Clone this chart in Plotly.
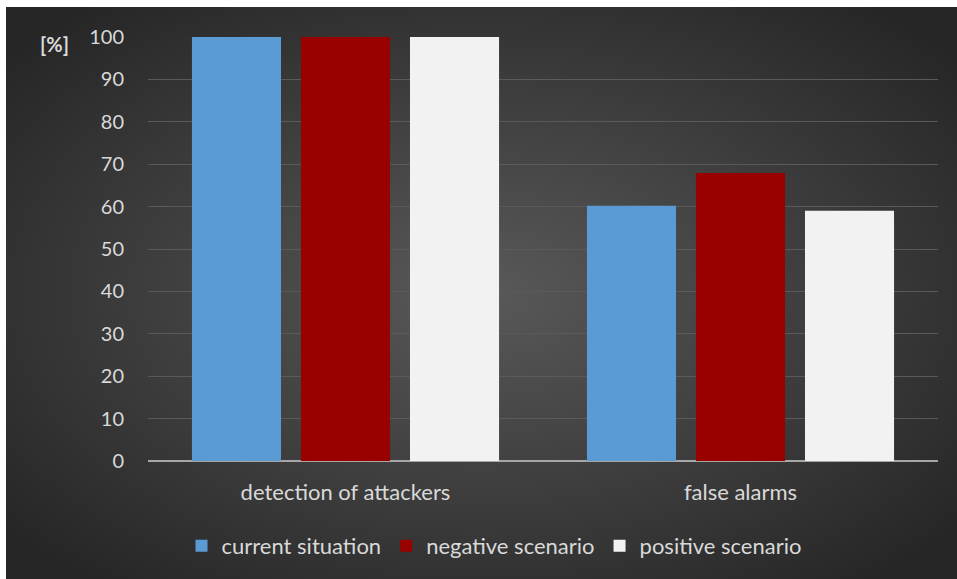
import base64
import plotly.graph_objects as go

# Chart data
categories = ["detection of attackers", "false alarms"]
series_names = ["current situation", "negative scenario", "positive scenario"]
current_situation = [100, 60.2]
negative_scenario = [100, 67.9]
positive_scenario = [100, 59.0]
y_ticks = [0, 10, 20, 30, 40, 50, 60, 70, 80, 90, 100]

series_values = [current_situation, negative_scenario, positive_scenario]
series_colors = ["#5b9bd5", "#990000", "#f2f2f2"]

FONT = "Lato, 'Open Sans', sans-serif"
TEXT = "#d9d9d9"
FS = 20
FS_CAT = 22

W, H = 957, 579
L, R, T, B = 148, 19, 37, 118
PW, PH = W - L - R, H - T - B

# Dark radial backdrop drawn as an SVG image
svg = f"""<svg xmlns='http://www.w3.org/2000/svg' width='{W-6}' height='{H-7}' viewBox='0 0 {W-6} {H-7}' preserveAspectRatio='none'>
<defs><radialGradient id='g' cx='50%' cy='50%' r='65%'>
<stop offset='0%' stop-color='#595959'/>
<stop offset='100%' stop-color='#262626'/>
</radialGradient></defs>
<rect width='100%' height='100%' fill='url(#g)'/></svg>"""
bg_src = "data:image/svg+xml;base64," + base64.b64encode(svg.encode()).decode()

fig = go.Figure()
for name, vals, col in zip(series_names, series_values, series_colors):
    fig.add_trace(go.Bar(
        x=categories, y=vals, name=name,
        marker=dict(color=col, line=dict(width=0)),
    ))

def px_x(px):
    return (px - L) / PW

def px_y(py):
    return (H - B - py) / PH

fig.add_layout_image(dict(
    source=bg_src, xref="paper", yref="paper",
    x=px_x(6), y=px_y(7), sizex=(W - 6) / PW, sizey=(H - 7) / PH,
    xanchor="left", yanchor="top", sizing="stretch", layer="below",
))

fig.add_annotation(
    text="<b>[%]</b>", xref="paper", yref="paper",
    x=px_x(54), y=px_y(44), xanchor="center", yanchor="middle",
    showarrow=False,
    font=dict(family="Lato", size=FS, color=TEXT, weight="bold"),
)

fig.update_layout(
    width=W, height=H,
    margin=dict(l=L, r=R, t=T, b=B, pad=0),
    paper_bgcolor="white", plot_bgcolor="rgba(0,0,0,0)",
    barmode="group", bargap=0.172, bargroupgap=0.183,
    font=dict(family=FONT, size=FS, color=TEXT),
    showlegend=True,
    legend=dict(
        orientation="h", x=px_x(494), xanchor="center",
        y=px_y(546), yanchor="middle",
        bgcolor="rgba(0,0,0,0)", font=dict(size=FS_CAT, color=TEXT),
        itemwidth=30, traceorder="normal",
    ),
    xaxis=dict(
        showgrid=False, zeroline=False, showline=False,
        ticks="outside", ticklen=12, tickcolor="rgba(0,0,0,0)",
        tickfont=dict(size=FS_CAT, color=TEXT),
    ),
    yaxis=dict(
        range=[0, 100], tickvals=y_ticks,
        showgrid=True, gridcolor="#5a5a5a", gridwidth=1,
        zeroline=True, zerolinecolor="#a6a6a6", zerolinewidth=2,
        ticks="outside", ticklen=19, tickcolor="rgba(0,0,0,0)",
        tickfont=dict(size=FS, color=TEXT),
    ),
)

fig.write_html("out.html")
